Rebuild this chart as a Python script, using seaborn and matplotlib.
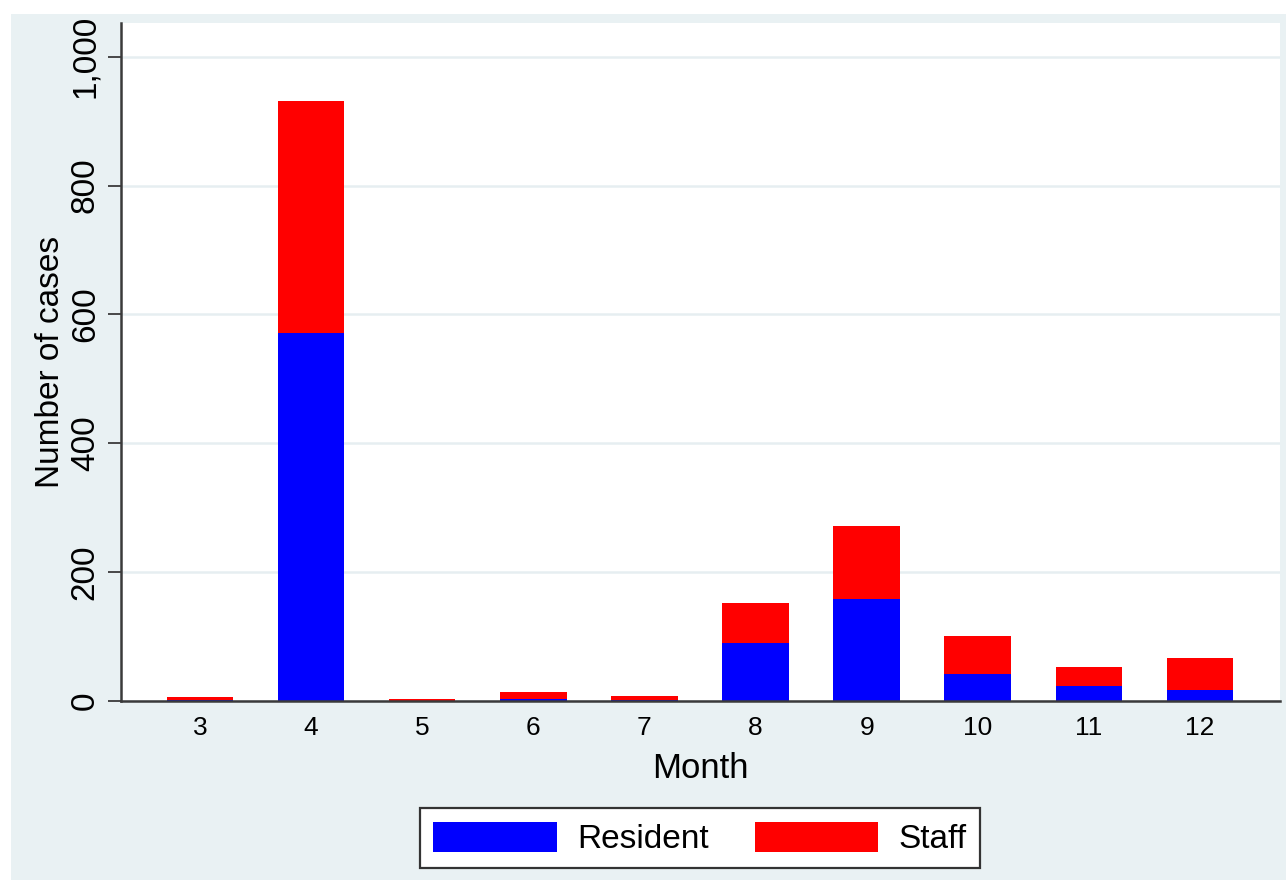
import matplotlib
matplotlib.use("Agg")
import matplotlib.pyplot as plt
from matplotlib.patches import Patch, Rectangle
import seaborn as sns
import pandas as pd

months = ["3", "4", "5", "6", "7", "8", "9", "10", "11", "12"]
resident = [1, 571, 0, 2, 1, 89, 158, 42, 23, 17]
staff = [4, 360, 3, 12, 6, 62, 113, 58, 29, 49]
series_names = ["Resident", "Staff"]
yticks = [0, 200, 400, 600, 800, 1000]
ytick_labels = ["0", "200", "400", "600", "800", "1,000"]

totals = [r + s for r, s in zip(resident, staff)]
df = pd.DataFrame({"Month": months, "Resident": resident, "Total": totals})

sns.set_theme(style="white")
plt.rcParams["font.family"] = ["Liberation Sans", "DejaVu Sans"]
plt.rcParams["text.color"] = "black"
plt.rcParams["axes.labelcolor"] = "black"
plt.rcParams["xtick.color"] = "black"
plt.rcParams["ytick.color"] = "black"

BG = "#E9F1F3"
BLUE = "#0000FF"
RED = "#FF0000"

fig = plt.figure(figsize=(12.86, 8.80), dpi=100)
fig.patch.set_facecolor("white")
fig.patches.append(Rectangle((11 / 1286, 0), 1 - 11 / 1286, (880 - 14) / 880,
                             transform=fig.transFigure, facecolor=BG,
                             edgecolor="none", zorder=-10))

ax = fig.add_axes([121 / 1286, (880 - 700.7) / 880, (1280 - 121) / 1286, (700.7 - 22.7) / 880])
ax.set_facecolor("white")

sns.barplot(data=df, x="Month", y="Total", color=RED, saturation=1, width=0.6,
            order=months, ax=ax, zorder=3, linewidth=0)
sns.barplot(data=df, x="Month", y="Resident", color=BLUE, saturation=1, width=0.6,
            order=months, ax=ax, zorder=4, linewidth=0)

ax.set_xlim(-0.71, 9.72)
ax.set_ylim(0, 1053)
ax.set_yticks(yticks)
ax.set_yticklabels(ytick_labels)
ax.yaxis.grid(True, color="#E6EEF1", linewidth=1.8, zorder=0)
ax.xaxis.grid(False)

for side in ["top", "right"]:
    ax.spines[side].set_visible(False)
for side in ["left", "bottom"]:
    ax.spines[side].set_color("#3a3a3a")
    ax.spines[side].set_linewidth(1.8)
    ax.spines[side].set_zorder(5)

ax.tick_params(axis="y", which="major", left=True, length=9.5, width=1.3,
               color="#3a3a3a", labelcolor="black", labelsize=24, pad=5,
               labelrotation=90)
for lab in ax.get_yticklabels():
    lab.set_va("center")
ax.tick_params(axis="x", which="major", bottom=False, length=0, labelsize=19,
               labelcolor="black", pad=11)

ax.set_xlabel("Month", fontsize=25, color="black")
ax.xaxis.set_label_coords(0.5, (700.7 - 751.7) / 678)
ax.xaxis.label.set_va("top")
ax.set_ylabel("Number of cases", fontsize=24, color="black")
ax.yaxis.set_label_coords((66 - 121) / 1159, 0.5)

handles = [Patch(facecolor=BLUE, edgecolor="none"), Patch(facecolor=RED, edgecolor="none")]
leg = fig.legend(handles, series_names, loc="center", bbox_to_anchor=(700 / 1286, 0.0472),
                 ncol=2, fontsize=24, frameon=True, fancybox=False, framealpha=1,
                 facecolor="white", edgecolor="#333333", handlelength=3.7,
                 handleheight=1.0, handletextpad=0.6, columnspacing=1.4,
                 borderpad=0.4, labelcolor="black")
leg.get_frame().set_linewidth(1.6)

fig.savefig("out.png", dpi=100, facecolor=fig.get_facecolor())
